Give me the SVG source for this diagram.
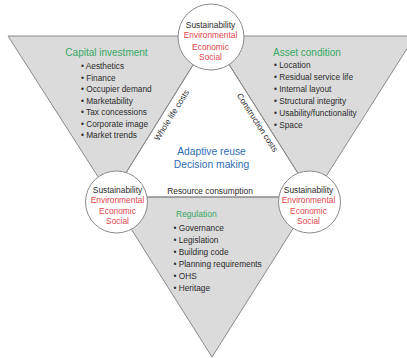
<svg xmlns="http://www.w3.org/2000/svg" width="407" height="358" viewBox="0 0 407 358">
<style>
.tri{fill:#dbdbdb;stroke:#8a8a8a;stroke-width:1}
.circ{fill:#ffffff;stroke:#8a8a8a;stroke-width:1}
text{font-family:"Liberation Sans",Arial,sans-serif}
.head{font-size:10px;fill:#35a866}
.sub{font-size:8.5px;fill:#35a866}
.item{font-size:8.3px;fill:#2b2b2b}
.dark{font-size:8.4px;fill:#2b2b2b;text-anchor:middle}
.red{font-size:8.4px;fill:#e0454d;text-anchor:middle}
.blue{font-size:10.3px;fill:#2f6db5;text-anchor:middle}
.edge{font-size:8.3px;fill:#2b2b2b;text-anchor:middle;dominant-baseline:central}
</style>
<rect width="407" height="358" fill="#ffffff"/>
<g id="capital-investment">
<polygon class="tri" points="8,36 211,36 111,197"/>
<text class="head" x="106.5" y="55.5" text-anchor="middle">Capital investment</text>
<text class="item" x="81" y="69">• Aesthetics</text>
<text class="item" x="81" y="80.5">• Finance</text>
<text class="item" x="81" y="92">• Occupier demand</text>
<text class="item" x="81" y="103.5">• Marketability</text>
<text class="item" x="81" y="115">• Tax concessions</text>
<text class="item" x="81" y="126.5">• Corporate image</text>
<text class="item" x="81" y="138">• Market trends</text>
</g>
<g id="asset-condition">
<polygon class="tri" points="211,36 415,36 313,197"/>
<text class="head" x="273" y="55.5">Asset condition</text>
<text class="item" x="274" y="67.5">• Location</text>
<text class="item" x="274" y="79.5">• Residual service life</text>
<text class="item" x="274" y="91.5">• Internal layout</text>
<text class="item" x="274" y="103.5">• Structural integrity</text>
<text class="item" x="274" y="115.5">• Usability/functionality</text>
<text class="item" x="274" y="127.5">• Space</text>
</g>
<g id="regulation">
<polygon class="tri" points="111,197 313,197 212,357"/>
<text class="sub" x="176" y="217">Regulation</text>
<text class="item" x="173.5" y="230.7">• Governance</text>
<text class="item" x="173.5" y="242.8">• Legislation</text>
<text class="item" x="173.5" y="254.8">• Building code</text>
<text class="item" x="173.5" y="266.9">• Planning requirements</text>
<text class="item" x="173.5" y="279">• OHS</text>
<text class="item" x="173.5" y="291">• Heritage</text>
</g>
<g id="connectors">
<line x1="211" y1="36" x2="111" y2="197" stroke="#8a8a8a" stroke-width="1"/>
<line x1="211" y1="36" x2="313" y2="197" stroke="#8a8a8a" stroke-width="1"/>
<line x1="111" y1="197" x2="313" y2="197" stroke="#8a8a8a" stroke-width="1"/>
<text class="edge" transform="translate(171.5,115) rotate(-58)">Whole life costs</text>
<text class="edge" transform="translate(257.5,122.5) rotate(57)">Construction costs</text>
<text class="dark" x="210" y="194">Resource consumption</text>
</g>
<g id="center-label">
<text class="blue" x="211.5" y="155.4">Adaptive reuse</text>
<text class="blue" x="211.5" y="167.7">Decision making</text>
</g>
<g id="sustainability-top">
<circle class="circ" cx="211" cy="37" r="33"/>
<text class="dark" x="210.5" y="28">Sustainability</text>
<text class="red" x="210.5" y="38.3">Environmental</text>
<text class="red" x="210.5" y="49.5">Economic</text>
<text class="red" x="210.5" y="60">Social</text>
</g>
<g id="sustainability-left">
<circle class="circ" cx="116.5" cy="202" r="31"/>
<text class="dark" x="117.5" y="193">Sustainability</text>
<text class="red" x="117.5" y="203.3">Environmental</text>
<text class="red" x="117.5" y="214">Economic</text>
<text class="red" x="117.5" y="224.3">Social</text>
</g>
<g id="sustainability-right">
<circle class="circ" cx="309.5" cy="202" r="31"/>
<text class="dark" x="308.5" y="193">Sustainability</text>
<text class="red" x="308.5" y="203.3">Environmental</text>
<text class="red" x="308.5" y="214">Economic</text>
<text class="red" x="308.5" y="224.3">Social</text>
</g>
</svg>
